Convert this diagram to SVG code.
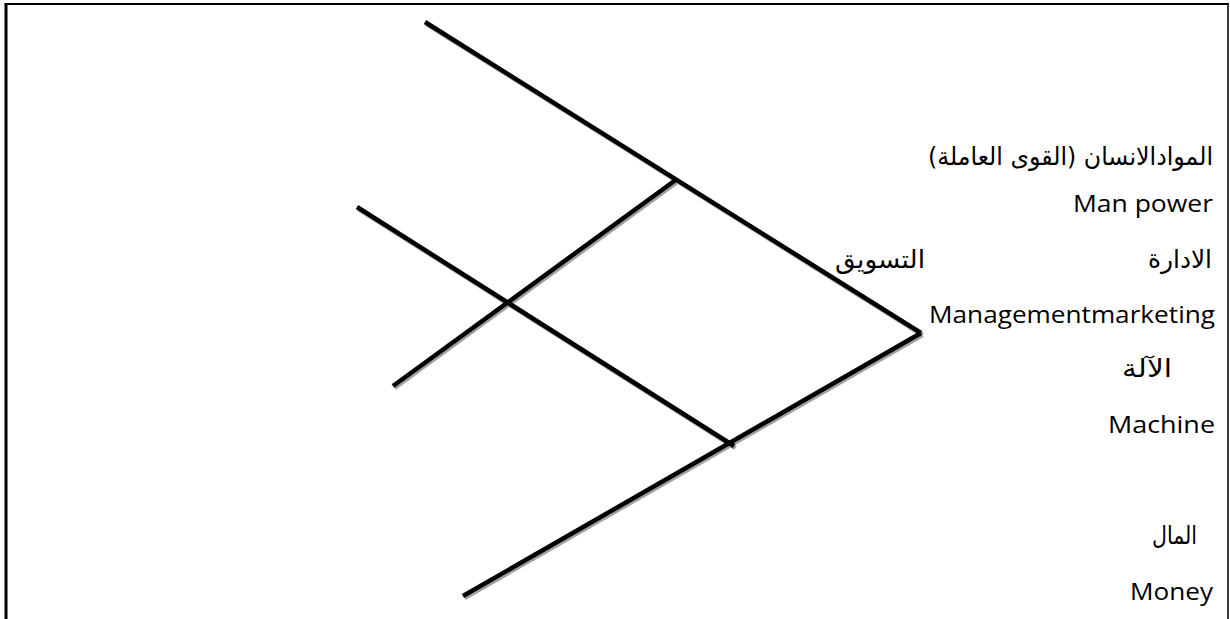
<svg xmlns="http://www.w3.org/2000/svg" width="1230" height="619" viewBox="0 0 1230 619">
<style>
.ln{stroke:#000;stroke-width:4.5;fill:none;stroke-linecap:butt}
.sh{stroke:#a0a0a0;stroke-width:4.5;fill:none}
.t{font-family:"Open Sans","DejaVu Sans",sans-serif;font-size:24px;fill:#000}
.ar{font-family:"DejaVu Sans","Noto Sans",sans-serif;font-size:25px;fill:#000}
</style>
<rect width="1230" height="619" fill="#fff"/>
<g id="frame">
<line x1="4.5" y1="4" x2="1229" y2="4" stroke="#000" stroke-width="2"/>
<line x1="6" y1="4" x2="6" y2="619" stroke="#000" stroke-width="3"/>
<line x1="1228" y1="4" x2="1228" y2="619" stroke="#000" stroke-width="1.5"/>
</g>
<g id="connectors">
<g transform="translate(1.5,2)">
<line class="sh" x1="425" y1="22" x2="921" y2="333"/>
<line class="sh" x1="921" y1="333" x2="463" y2="596"/>
<line class="sh" x1="357" y1="207" x2="734" y2="446"/>
<line class="sh" x1="393" y1="386" x2="677" y2="179"/>
</g>
<line class="ln" x1="425" y1="22" x2="921" y2="333"/>
<line class="ln" x1="921" y1="333" x2="463" y2="596"/>
<line class="ln" x1="357" y1="207" x2="734" y2="446"/>
<line class="ln" x1="393" y1="386" x2="677" y2="179"/>
</g>
<g id="label-manpower">
<text class="ar" x="1213" y="165" text-anchor="start" direction="rtl" textLength="285" lengthAdjust="spacingAndGlyphs">الموادالانسان (القوى العاملة)</text>
<text class="t" x="1073" y="212" textLength="140" lengthAdjust="spacingAndGlyphs">Man power</text>
</g>
<g id="label-management">
<text class="ar" x="1212" y="268" text-anchor="start" direction="rtl" textLength="64" lengthAdjust="spacingAndGlyphs">الادارة</text>
<text class="ar" x="925" y="268" text-anchor="start" direction="rtl" textLength="90" lengthAdjust="spacingAndGlyphs">التسويق</text>
<text class="t" x="929" y="323" textLength="286" lengthAdjust="spacingAndGlyphs">Managementmarketing</text>
</g>
<g id="label-machine">
<text class="ar" x="1172" y="377" text-anchor="start" direction="rtl" textLength="50" lengthAdjust="spacingAndGlyphs">الآلة</text>
<text class="t" x="1108" y="433" textLength="107" lengthAdjust="spacingAndGlyphs">Machine</text>
</g>
<g id="label-money">
<text class="ar" x="1197" y="544" text-anchor="start" direction="rtl" textLength="45" lengthAdjust="spacingAndGlyphs">المال</text>
<text class="t" x="1130" y="600" textLength="83" lengthAdjust="spacingAndGlyphs">Money</text>
</g>
</svg>
